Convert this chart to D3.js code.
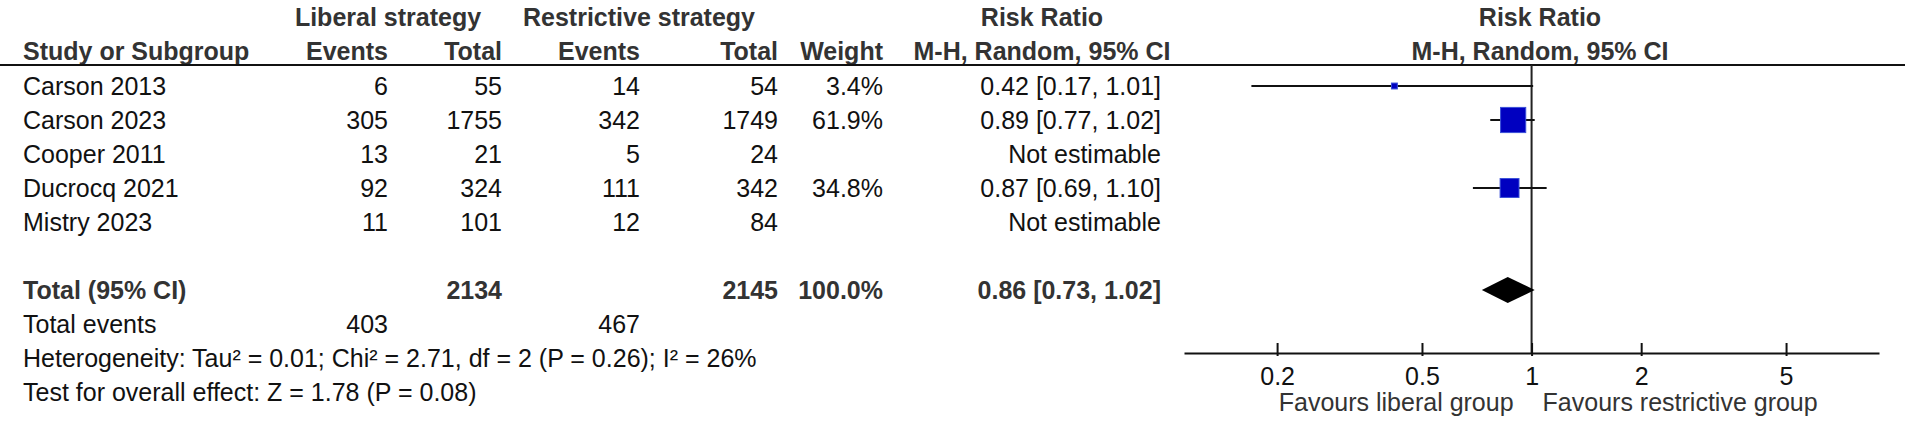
<!DOCTYPE html>
<html>
<head>
<meta charset="utf-8">
<script src="https://cdn.jsdelivr.net/npm/d3@7"></script>
<style>
body { margin: 0; background: #fff; }
text { font-family: "Liberation Sans", Arial, sans-serif; font-size: 25px; fill: #111; }
.bold { font-weight: bold; fill: #333; }
</style>
</head>
<body>
<script>
//study data
var studies = ["Carson 2013", "Carson 2023", "Cooper 2011", "Ducrocq 2021", "Mistry 2023"];
var libEvents = [6, 305, 13, 92, 11];
var libTotal = [55, 1755, 21, 324, 101];
var resEvents = [14, 342, 5, 111, 12];
var resTotal = [54, 1749, 24, 342, 84];
var weights = [3.4, 61.9, null, 34.8, null];
var rr = [0.42, 0.89, null, 0.87, null];
var rrLow = [0.17, 0.77, null, 0.69, null];
var rrHigh = [1.01, 1.02, null, 1.10, null];

//pooled result
var totalLib = 2134, totalRes = 2145;
var totalEventsLib = 403, totalEventsRes = 467;
var pooled = [0.86, 0.73, 1.02];
var tickValues = [0.2, 0.5, 1, 2, 5];
var hetText = "Heterogeneity: Tau\u00b2 = 0.01; Chi\u00b2 = 2.71, df = 2 (P = 0.26); I\u00b2 = 26%";
var effectText = "Test for overall effect: Z = 1.78 (P = 0.08)";

window.onload = drawForest();

function drawForest(){
    var width = 1905, height = 422;

    var svg = d3.select("body")
        .append("svg")
        .attr("width", width)
        .attr("height", height);

    //row positions
    var rowY = d3.scaleLinear().domain([0, 1]).range([86, 120]);
    var axisY = 353, lineY = 65;

    //log scale for risk ratio
    var x = d3.scaleLog()
        .domain([0.111, 9])
        .range([1184, 1879]);

    //square size by weight
    var size = d3.scaleSqrt().domain([0, 100]).range([0, 32]);

    //column right edges
    var cols = { lib: 388, libT: 502, res: 640, resT: 778, w: 883, rr: 1161 };

    function txt(xp, yp, s, anchor, cls){
        return svg.append("text")
            .attr("x", xp)
            .attr("y", yp)
            .attr("dy", "0.35em")
            .attr("text-anchor", anchor || "start")
            .attr("class", cls || null)
            .text(s);
    }

    //headers
    txt(388, 17, "Liberal strategy", "middle", "bold");
    txt(639, 17, "Restrictive strategy", "middle", "bold");
    txt(1042, 17, "Risk Ratio", "middle", "bold");
    txt(1540, 17, "Risk Ratio", "middle", "bold");
    txt(23, 51, "Study or Subgroup", "start", "bold");
    txt(cols.lib, 51, "Events", "end", "bold");
    txt(cols.libT, 51, "Total", "end", "bold");
    txt(cols.res, 51, "Events", "end", "bold");
    txt(cols.resT, 51, "Total", "end", "bold");
    txt(cols.w, 51, "Weight", "end", "bold");
    txt(1042, 51, "M-H, Random, 95% CI", "middle", "bold");
    txt(1540, 51, "M-H, Random, 95% CI", "middle", "bold");

    svg.append("line")
        .attr("x1", 0).attr("x2", width)
        .attr("y1", lineY).attr("y2", lineY)
        .attr("stroke", "#111")
        .attr("stroke-width", 2);

    //study rows
    studies.forEach(function(s, i){
        var y = rowY(i);
        txt(23, y, s);
        txt(cols.lib, y, libEvents[i], "end");
        txt(cols.libT, y, libTotal[i], "end");
        txt(cols.res, y, resEvents[i], "end");
        txt(cols.resT, y, resTotal[i], "end");
        if(weights[i] != null){
            txt(cols.w, y, weights[i].toFixed(1) + "%", "end");
            txt(cols.rr, y, rr[i].toFixed(2) + " [" + rrLow[i].toFixed(2) + ", " + rrHigh[i].toFixed(2) + "]", "end");
        }else{
            txt(cols.rr, y, "Not estimable", "end");
        }
    });

    //total rows
    var yT = rowY(6);
    txt(23, yT, "Total (95% CI)", "start", "bold");
    txt(cols.libT, yT, totalLib, "end", "bold");
    txt(cols.resT, yT, totalRes, "end", "bold");
    txt(cols.w, yT, "100.0%", "end", "bold");
    txt(cols.rr, yT, pooled[0].toFixed(2) + " [" + pooled[1].toFixed(2) + ", " + pooled[2].toFixed(2) + "]", "end", "bold");
    txt(23, rowY(7), "Total events");
    txt(cols.lib, rowY(7), totalEventsLib, "end");
    txt(cols.res, rowY(7), totalEventsRes, "end");
    txt(23, rowY(8), hetText);
    txt(23, rowY(9), effectText);

    //line of no effect
    svg.append("line")
        .attr("x1", x(1)).attr("x2", x(1))
        .attr("y1", lineY).attr("y2", axisY)
        .attr("stroke", "#222")
        .attr("stroke-width", 2);

    //confidence intervals and squares
    var idx = d3.range(studies.length).filter(function(i){ return rr[i] != null; });
    svg.selectAll(".ci")
        .data(idx)
        .enter()
        .append("line")
        .attr("class", "ci")
        .attr("x1", function(i){ return x(Math.max(rrLow[i], x.domain()[0])); })
        .attr("x2", function(i){ return x(rrHigh[i]); })
        .attr("y1", function(i){ return rowY(i); })
        .attr("y2", function(i){ return rowY(i); })
        .attr("stroke", "#111")
        .attr("stroke-width", 2);

    svg.selectAll(".sq")
        .data(idx)
        .enter()
        .append("rect")
        .attr("class", "sq")
        .attr("x", function(i){ return x(rr[i]) - size(weights[i]) / 2; })
        .attr("y", function(i){ return rowY(i) - size(weights[i]) / 2; })
        .attr("width", function(i){ return size(weights[i]); })
        .attr("height", function(i){ return size(weights[i]); })
        .attr("fill", "#0000c0")
        .attr("stroke", "#3a4fd8")
        .attr("stroke-width", 1);

    //pooled diamond
    var dh = 13;
    svg.append("path")
        .attr("d", "M" + x(pooled[1]) + "," + yT +
                   "L" + x(pooled[0]) + "," + (yT - dh) +
                   "L" + x(pooled[2]) + "," + yT +
                   "L" + x(pooled[0]) + "," + (yT + dh) + "Z")
        .attr("fill", "#000");

    //axis
    var xAxis = d3.axisBottom(x)
        .tickValues(tickValues)
        .tickFormat(d3.format("")) 
        .tickSize(0)
        .tickPadding(14);
    var axis = svg.append("g")
        .attr("transform", "translate(0," + axisY + ")")
        .call(xAxis);
    axis.select(".domain").attr("stroke", "#111").attr("stroke-width", 2);
    axis.selectAll(".tick text")
        .attr("font-size", null)
        .attr("font-family", null)
        .style("font-size", "25px")
        .style("fill", "#111");
    axis.selectAll(".tick")
        .append("line")
        .attr("y1", -10).attr("y2", 3)
        .attr("stroke", "#111")
        .attr("stroke-width", 2);

    //favours labels
    txt(x(1) - 18, 402, "Favours liberal group", "end").style("fill", "#333");
    txt(x(1) + 11, 402, "Favours restrictive group", "start").style("fill", "#333");
}
</script>
</body>
</html>
